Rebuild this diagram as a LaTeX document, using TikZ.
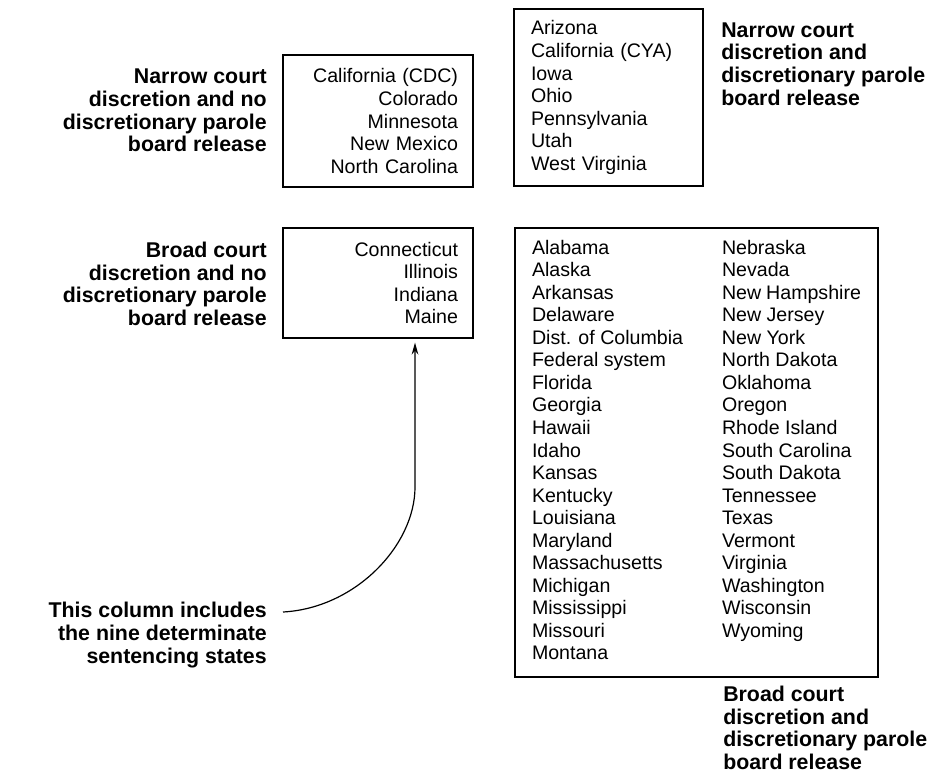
\documentclass[tikz,border=0pt]{standalone}
\usepackage{fontspec}
\setmainfont{Liberation Sans}
\usetikzlibrary{arrows.meta,calc}
\begin{document}
\begin{tikzpicture}[x=0.75pt,y=-0.75pt,
  list/.style={draw, line width=0.9pt, inner sep=0pt, font=\fontsize{14.7}{16.9}\selectfont},
  note/.style={inner sep=0pt, font=\bfseries\fontsize{16}{16.9}\selectfont}]
\useasboundingbox (0,0) rectangle (949,774);

\node [list, align=right, text width=120pt, minimum width=142.5pt, minimum height=99pt] (narrowfixed) at (378,121) {California (CDC)\\Colorado\\Minnesota\\New Mexico\\North Carolina};
\node [list, align=left, text width=116.25pt, minimum width=141.75pt, minimum height=132.75pt] (narrowparole) at (608.5,97.5) {Arizona\\California (CYA)\\Iowa\\Ohio\\Pennsylvania\\Utah\\West Virginia};
\node [list, align=right, text width=120pt, minimum width=142.5pt, minimum height=82.5pt] (broadfixed) at (378,283) {Connecticut\\Illinois\\Indiana\\Maine};
\node [list, minimum width=272.25pt, minimum height=336.75pt] (broadparole) at (696.5,452.5) {%
\begin{tabular}{@{}p{142.5pt}@{}p{104.25pt}@{}}
Alabama & Nebraska\\
Alaska & Nevada\\
Arkansas & New Hampshire\\
Delaware & New Jersey\\
Dist. of Columbia & New York\\
Federal system & North Dakota\\
Florida & Oklahoma\\
Georgia & Oregon\\
Hawaii & Rhode Island\\
Idaho & South Carolina\\
Kansas & South Dakota\\
Kentucky & Tennessee\\
Louisiana & Texas\\
Maryland & Vermont\\
Massachusetts & Virginia\\
Michigan & Washington\\
Mississippi & Wisconsin\\
Missouri & Wyoming\\
Montana &
\end{tabular}};

\node [note, anchor=east, align=right] (narrowfixedlabel) at (267,110.5) {Narrow court\\discretion and no\\discretionary parole\\board release};
\node [note, anchor=west, align=left] (narrowparolelabel) at (721,64) {Narrow court\\discretion and\\discretionary parole\\board release};
\node [note, anchor=east, align=right] (broadfixedlabel) at (267,284) {Broad court\\discretion and no\\discretionary parole\\board release};
\node [note, anchor=west, align=left] (broadparolelabel) at (723,728) {Broad court\\discretion and\\discretionary parole\\board release};
\node [note, anchor=east, align=right] (columnnote) at (267,635) {This column includes\\the nine determinate\\sentencing states};

\coordinate (tail) at (283,612);
\coordinate (bend) at (415,487);
\draw [line width=0.9pt, -{Stealth[length=9pt,width=5pt]}] (tail) .. controls (356,608) and (415,545) .. (bend) -- ($(broadfixed.south)+(37,4)$);
\end{tikzpicture}
\end{document}
